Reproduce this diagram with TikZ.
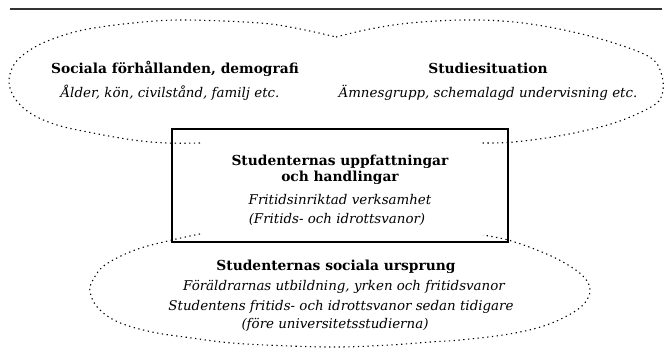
\documentclass[tikz,border=0pt]{standalone}
\usepackage{fontspec}
\setmainfont{DejaVu Serif}
\usepackage{tikz}
\tikzset{>=latex}
\tikzset{
  rim/.style={line width=1.1pt, dash pattern=on 1.3pt off 3.5pt},
  head/.style={anchor=base, font=\bfseries\fontsize{13.8}{16}\selectfont},
  sub/.style={anchor=base, font=\itshape\fontsize{13.4}{15}\selectfont},
}

\begin{document}
\begin{tikzpicture}[x=1pt, y=-1pt]
\useasboundingbox (0,0) rectangle (664,353);
\draw[line width=1.4pt, black!80] (10,9) -- (662,9);

% the two upper ovals, meeting at a point
\draw[rim] plot[smooth, tension=0.6] coordinates {(200,143) (167,143) (133,140) (93,133) (57,125) (30,113) (14,97) (9,80) (15,63) (30,50) (50,40) (83,30) (133,23) (183,20) (260,23) (300,29) (336,37)};
\draw[rim] plot[smooth, tension=0.6] coordinates {(336,37) (370,29) (410,23) (464,20) (514,22) (564,30) (614,43) (651,58) (662,76) (662,95) (651,107) (614,123) (564,135) (514,142) (482,143)};

% lower oval
\draw[rim] plot[smooth, tension=0.6] coordinates {(200,234) (172,240) (135,250) (105,265) (93,280) (90,292) (98,308) (118,322) (152,332) (192,338) (232,343) (290,346) (340,347) (390,345) (430,342) (460,340) (503,335) (537,328) (563,318) (583,305) (590,290) (583,276) (563,262) (537,250) (508,240) (483,235)};

\node[draw, line width=1.1pt, minimum width=336pt, minimum height=113pt, inner sep=0pt] (ram) at (340,185.5) {};

\node[head] (soc) at (175,74) {Sociala förhållanden, demografi};
\node[sub] (alder) at (170,97) {Ålder, kön, civilstånd, familj etc.};
\node[head] (stud) at (488,74) {Studiesituation};
\node[sub] (amne) at (488,97) {Ämnesgrupp, schemalagd undervisning etc.};

\node[head] (upp) at (340,165) {Studenternas uppfattningar};
\node[head] (handl) at (340,181) {och handlingar};
\node[sub] (frit) at (340,204) {Fritidsinriktad verksamhet};
\node[sub] (vanor) at (337,223) {(Fritids- och idrottsvanor)};

\node[head] (urspr) at (336,270) {Studenternas sociala ursprung};
\node[sub] (foral) at (344,290) {Föräldrarnas utbildning, yrken och fritidsvanor};
\node[sub] (tidig) at (341,310) {Studentens fritids- och idrottsvanor sedan tidigare};
\node[sub] (fore) at (335,328) {(före universitetsstudierna)};
\end{tikzpicture}
\end{document}
